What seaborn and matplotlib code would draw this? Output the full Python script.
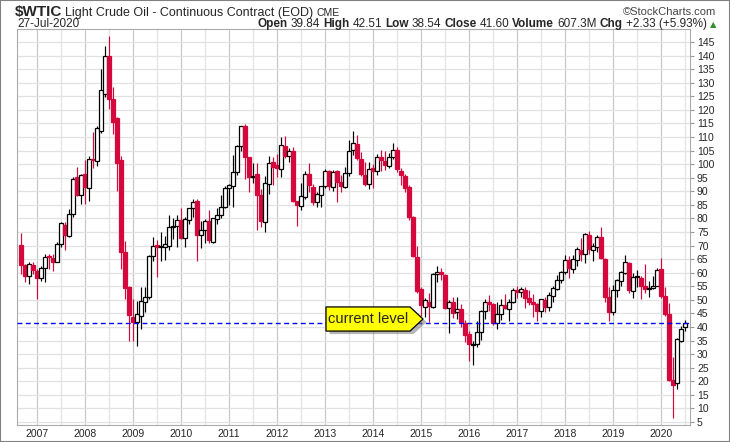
import numpy as np
import pandas as pd
import matplotlib
matplotlib.use("Agg")
import matplotlib.pyplot as plt
from matplotlib import font_manager
from matplotlib.patches import Polygon, Rectangle
import seaborn as sns

# monthly candles for $WTIC, Sep 2006 .. Jul 2020
start_month = "2006-09"
opens = [
    70.3, 62.9, 58.7, 62.7,
    60.8, 58.0, 61.8, 66.0, 65.6, 64.0, 70.6, 77.7, 73.6, 81.6, 95.1, 88.7,
    96.4, 91.2, 101.8, 101.3, 112.3, 125.8, 140.0, 124.1, 117.0, 101.6, 67.5, 54.6,
    43.8, 41.7, 44.2, 49.1, 51.0, 66.3, 70.3, 69.3, 69.6, 70.0, 77.0, 77.3,
    79.4, 72.9, 79.5, 83.8, 86.3, 74.0, 75.6, 79.0, 71.5, 79.8, 81.4, 84.1,
    91.4, 92.0, 97.0, 106.7, 113.9, 102.5, 95.1, 96.4, 88.7, 78.8, 92.7, 100.7,
    99.8, 98.2, 106.8, 103.1, 104.7, 86.3, 84.7, 88.0, 96.4, 91.7, 85.9, 88.7,
    91.8, 97.3, 91.7, 97.3, 93.3, 91.5, 96.6, 105.3, 107.4, 101.9, 96.1, 92.6,
    98.6, 97.3, 102.8, 101.3, 99.4, 102.8, 105.4, 97.6, 95.7, 91.5, 80.6, 65.9,
    54.0, 47.5, 49.4, 47.5, 59.6, 60.2, 59.0, 47.1, 49.2, 45.4, 46.6, 41.3,
    37.6, 33.5, 33.9, 38.0, 46.0, 49.1, 48.4, 41.3, 44.8, 48.2, 46.6, 49.1,
    53.7, 52.8, 53.8, 50.6, 49.1, 48.3, 46.0, 49.9, 47.2, 51.5, 54.0, 57.4,
    60.4, 64.7, 61.4, 64.7, 68.4, 66.9, 74.0, 68.4, 69.6, 73.3, 65.0, 51.0,
    45.4, 53.8, 57.0, 60.0, 63.7, 53.4, 58.5, 58.0, 55.0, 54.0, 54.2, 55.2,
    61.5, 51.6, 44.8, 20.5, 19.2, 34.9, 39.84,
]
highs = [
    74.5, 63.4, 63.8, 64.0,
    61.2, 62.6, 66.9, 67.0, 66.9, 71.2, 78.6, 78.6, 83.5, 95.1, 99.1, 96.4,
    101.5, 103.1, 111.8, 114.2, 135.0, 143.7, 147.3, 128.5, 117.5, 102.9, 71.8, 55.2,
    50.3, 49.7, 54.6, 54.6, 66.6, 73.3, 72.0, 74.9, 73.6, 81.4, 80.2, 81.4,
    83.9, 80.5, 83.9, 87.2, 87.2, 79.0, 79.8, 83.1, 80.1, 84.0, 88.6, 91.9,
    92.6, 103.4, 106.9, 113.9, 114.8, 102.8, 100.6, 100.6, 90.8, 95.8, 103.1, 102.5,
    103.7, 109.9, 110.5, 106.0, 106.4, 86.5, 92.9, 97.4, 100.4, 92.7, 89.6, 91.9,
    98.2, 98.0, 97.9, 97.8, 96.0, 99.0, 108.9, 112.2, 110.7, 104.3, 100.7, 100.8,
    100.0, 103.7, 105.2, 104.9, 104.1, 107.7, 106.2, 98.7, 96.2, 92.2, 81.0, 69.7,
    54.8, 50.6, 52.5, 59.9, 62.6, 61.6, 59.5, 49.9, 50.9, 50.9, 48.4, 42.6,
    38.4, 35.0, 42.3, 46.2, 50.2, 51.7, 49.0, 49.4, 50.2, 52.2, 50.3, 54.5,
    55.2, 54.9, 54.6, 53.8, 52.0, 49.0, 50.4, 50.9, 52.9, 55.2, 59.0, 60.5,
    66.7, 66.2, 66.6, 69.6, 72.9, 74.5, 75.3, 71.0, 73.8, 76.9, 65.4, 54.6,
    55.4, 57.8, 60.7, 66.6, 63.8, 59.9, 60.9, 58.7, 63.4, 56.9, 58.7, 61.9,
    65.6, 54.7, 48.7, 29.1, 35.8, 40.4, 42.51,
]
lows = [
    59.5, 56.6, 55.8, 59.5,
    50.3, 56.8, 56.5, 61.3, 60.7, 63.8, 69.3, 68.4, 73.0, 80.4, 88.4, 85.5,
    85.3, 86.3, 98.7, 99.4, 111.3, 124.6, 120.3, 111.1, 90.2, 61.3, 50.3, 34.9,
    34.9, 33.1, 39.2, 45.5, 50.3, 64.4, 58.3, 64.4, 64.7, 68.4, 72.5, 69.5,
    72.4, 69.5, 78.0, 80.5, 64.2, 69.0, 71.0, 70.8, 70.8, 78.0, 80.0, 84.0,
    85.1, 84.1, 96.0, 105.0, 94.6, 89.6, 92.9, 75.7, 76.7, 74.9, 89.0, 92.5,
    95.4, 95.1, 102.1, 100.7, 86.1, 77.3, 83.0, 87.1, 89.8, 84.8, 84.1, 84.1,
    91.2, 90.5, 90.0, 86.1, 89.9, 91.1, 95.6, 103.2, 101.4, 95.8, 91.8, 91.0,
    91.2, 96.1, 97.4, 97.9, 98.6, 101.9, 97.2, 92.5, 89.6, 79.4, 65.7, 52.7,
    44.2, 43.6, 42.0, 47.0, 56.5, 57.2, 46.7, 37.8, 43.2, 43.0, 40.0, 34.5,
    27.6, 26.1, 32.5, 35.2, 43.0, 45.8, 40.6, 39.2, 42.5, 46.6, 42.2, 49.0,
    50.7, 51.2, 47.0, 48.2, 43.8, 42.1, 43.7, 45.6, 46.0, 49.1, 53.8, 56.1,
    59.5, 58.1, 59.9, 62.5, 64.2, 63.6, 67.0, 64.4, 67.8, 64.9, 49.4, 42.4,
    44.4, 51.2, 55.0, 59.6, 52.7, 50.6, 54.7, 50.5, 52.6, 50.9, 54.0, 55.0,
    50.6, 44.0, 20.1, 6.5, 17.3, 34.4, 38.54,
]
closes = [
    62.9, 58.7, 63.1, 61.05,
    58.1, 61.8, 65.9, 65.7, 64.0, 70.7, 78.2, 74.0, 81.7, 94.5, 88.7, 96.0,
    91.7, 101.8, 101.6, 113.5, 127.4, 140.0, 124.1, 115.5, 100.6, 67.8, 54.4, 44.6,
    41.7, 44.8, 49.7, 51.1, 66.3, 69.9, 69.5, 70.0, 70.6, 77.0, 77.3, 79.4,
    72.9, 79.7, 83.8, 86.2, 74.0, 75.6, 79.0, 71.9, 80.0, 81.4, 84.1, 91.4,
    92.2, 97.0, 106.7, 113.9, 102.7, 95.4, 95.7, 88.8, 79.2, 93.2, 100.4, 98.8,
    98.5, 107.1, 103.0, 104.9, 86.5, 85.0, 88.1, 96.5, 92.2, 86.2, 88.9, 91.8,
    97.5, 92.1, 97.2, 93.5, 92.0, 96.6, 105.0, 107.7, 102.3, 96.4, 92.7, 98.4,
    97.5, 102.6, 101.6, 99.7, 102.7, 105.4, 98.2, 96.0, 91.2, 80.5, 66.2, 53.3,
    48.2, 49.8, 47.6, 59.6, 60.3, 59.5, 47.1, 49.2, 45.1, 46.6, 41.7, 37.0,
    33.6, 33.8, 38.3, 45.9, 49.1, 48.3, 41.6, 44.7, 48.2, 46.9, 49.4, 53.7,
    52.8, 54.0, 50.6, 49.3, 48.3, 46.0, 50.2, 47.2, 51.7, 54.4, 57.4, 60.4,
    64.7, 61.6, 64.9, 68.6, 67.0, 74.2, 68.8, 69.8, 73.3, 65.3, 50.9, 45.4,
    53.8, 57.2, 60.1, 63.9, 53.5, 58.5, 58.6, 55.1, 54.1, 54.2, 55.2, 61.1,
    51.6, 44.8, 20.5, 18.8, 35.5, 39.3, 41.60,
]

y_ticks = list(range(5, 150, 5))
current_level = 41.60
quote_labels = ["Open", "High", "Low", "Close", "Volume", "Chg"]
quote_values = ["39.84", "42.51", "38.54", "41.60", "607.3M", "+2.33 (+5.93%)"]

months = pd.period_range(start_month, periods=len(closes), freq="M")
df = pd.DataFrame({"month": months, "open": opens, "high": highs,
                   "low": lows, "close": closes})
df["x"] = np.arange(len(df))
df["up"] = df["close"] >= df["open"]

RED = "#d4083c"

sns.set_style("white")
names = {f.name for f in font_manager.fontManager.ttflist}
narrow = "Liberation Sans Narrow" if "Liberation Sans Narrow" in names else "Liberation Sans"
plt.rcParams["font.family"] = ["Liberation Sans", "DejaVu Sans"]

W, H = 730, 442
fig = plt.figure(figsize=(W / 100, H / 100), dpi=100)
ax = fig.add_axes([17 / W, 1 - 425 / H, (690 - 17) / W, (425 - 29) / H])

# grid
jan = df.loc[df["month"].dt.month == 1, "x"]
jul = df.loc[df["month"].dt.month == 7, "x"]
for x in jul:
    ax.axvline(x, color="#e4e4e4", lw=0.9, zorder=0)
for x in jan:
    ax.axvline(x, color="#c8c8c8", lw=0.9, zorder=0)
ax.set_yticks(y_ticks)
ax.grid(axis="y", color="#e2e2e2", lw=0.9, zorder=0)

# candles
wick_col = np.where(df["up"], "black", RED)
ax.vlines(df["x"], df["low"], df["high"], colors=wick_col, lw=0.85, zorder=2)
body_lo = df[["open", "close"]].min(axis=1)
body_h = (df["close"] - df["open"]).abs().clip(lower=0.3)
ax.bar(df["x"], body_h, bottom=body_lo, width=0.78,
       color=np.where(df["up"], "white", RED),
       edgecolor=np.where(df["up"], "black", RED), linewidth=0.9, zorder=3)

ax.axhline(current_level, color="#0000ff", lw=1.0, ls=(0, (3.5, 2.5)), zorder=4)

# "current level" flag
xl, xr, xt = 76.25, 97.25, 100.5
yb, yt, ym = current_level - 3.1, current_level + 5.8, current_level + 1.35
pts = [(xl, yb), (xr, yb), (xt, ym), (xr, yt), (xl, yt)]
shadow = Polygon([(px + 0.9, py - 1.1) for px, py in pts], closed=True,
                 facecolor="#7a7a7a", edgecolor="none", alpha=0.55, zorder=5)
flag = Polygon(pts, closed=True, facecolor="#ffff00", edgecolor="black",
               lw=0.9, zorder=6)
ax.add_patch(shadow)
ax.add_patch(flag)
ax.text((xl + xr) / 2, ym, "current level", ha="center", va="center",
        fontsize=10.5, zorder=7)

ax.set_xlim(-1, len(df) + 0.25)
ax.set_ylim(3.9, 149.8)
ax.yaxis.tick_right()
ax.tick_params(axis="y", length=3, color="#999999", pad=2, labelsize=7.5)
ax.set_xticks(jan, labels=[str(m.year) for m in df.loc[jan.index, "month"]])
ax.set_xticks(df["x"], minor=True)
ax.tick_params(axis="x", which="major", length=0, pad=3, labelsize=7.5)
ax.tick_params(axis="x", which="minor", length=1.5, width=0.6, color="#999999")
for s in ax.spines.values():
    s.set_color("#aaaaaa")
    s.set_linewidth(0.8)

# header
renderer = fig.canvas.get_renderer()


def runs(items, x_px, y_px, align="left", gap=3):
    arts = [fig.text(0, 1 - y_px / H, t, va="baseline", **kw) for t, kw in items]
    widths = [a.get_window_extent(renderer).width for a in arts]
    total = sum(widths) + gap * (len(arts) - 1)
    x = x_px - total if align == "right" else x_px
    for a, w in zip(arts, widths):
        a.set_x(x / W)
        x += w + gap


runs([("$WTIC", dict(family=narrow, fontsize=11, fontweight="bold")),
      ("Light Crude Oil - Continuous Contract (EOD)", dict(family=narrow, fontsize=9)),
      ("CME", dict(family=narrow, fontsize=7.5))], 15, 16)
runs([("\u00a9StockCharts.com", dict(family=narrow, fontsize=8, color="#444444"))],
     716, 15, align="right")
runs([("27-Jul-2020", dict(family=narrow, fontsize=8.5))], 17, 27)
items = []
for lab, val in zip(quote_labels, quote_values):
    items.append((lab, dict(family=narrow, fontsize=8.5, fontweight="bold")))
    items.append((val, dict(family=narrow, fontsize=8.5)))
items.append(("\u25b2", dict(family="DejaVu Sans", fontsize=6, color="#2f8f2f")))
runs(items, 716, 27, align="right", gap=3)

fig.add_artist(Rectangle((0, 0), 1, 1, transform=fig.transFigure, fill=False,
                         edgecolor="#808080", lw=1.5))

fig.savefig("out.png", dpi=100)
